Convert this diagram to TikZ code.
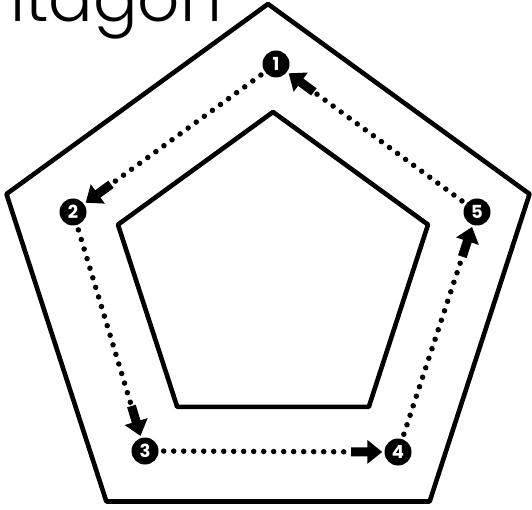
\documentclass[tikz,border=0pt]{standalone}
\usepackage{fontspec}
\setmainfont{Poppins}
\newfontfamily\titlefont{Poppins}[UprightFont=* Light]
\usetikzlibrary{arrows.meta,calc}
\tikzset{
  rim/.style={line width=4.6pt,line join=round},
  stepdot/.style={circle,fill=black,minimum size=27pt,inner sep=0pt,text=white,font=\bfseries\fontsize{18}{18}\selectfont},
  dotline/.style={line width=5.5pt,line cap=round,dash pattern=on 0pt off 10pt},
  headarrow/.style={line width=9pt,-{Triangle[length=15pt,width=23pt]}}
}
\newcommand{\stepmark}[3]{\node[stepdot] (#1) at (#2) {#3};}
\newcommand{\routeto}[2]{\draw[dotline,shorten <=5pt,shorten >=36pt] (#1) -- (#2);
  \draw[headarrow,shorten >=2pt] ($(#2)!47pt!(#1)$) -- (#2);}
\begin{document}
\begin{tikzpicture}[x=1pt,y=-1pt]
\useasboundingbox (0,0) rectangle (532,510);
\clip (0,0) rectangle (532,510);
\node[anchor=base east,inner sep=0pt,font=\titlefont\fontsize{66}{66}\selectfont] (title) at (222,22) {Pentagon};
\draw[rim,shift={(268,279)}] (-90:275) -- (-18:275) -- (54:275) -- (126:275) -- (198:275) -- cycle;
\draw[rim,shift={(273,275)}] (-90:163) -- (-18:163) -- (54:163) -- (126:163) -- (198:163) -- cycle;
\stepmark{s1}{276,64}{1} \stepmark{s2}{73,212}{2} \stepmark{s3}{145,451}{3}
\stepmark{s4}{398,452}{4} \stepmark{s5}{477,212}{5}
\routeto{s1}{s2} \routeto{s2}{s3} \routeto{s3}{s4} \routeto{s4}{s5} \routeto{s5}{s1}
\end{tikzpicture}
\end{document}
